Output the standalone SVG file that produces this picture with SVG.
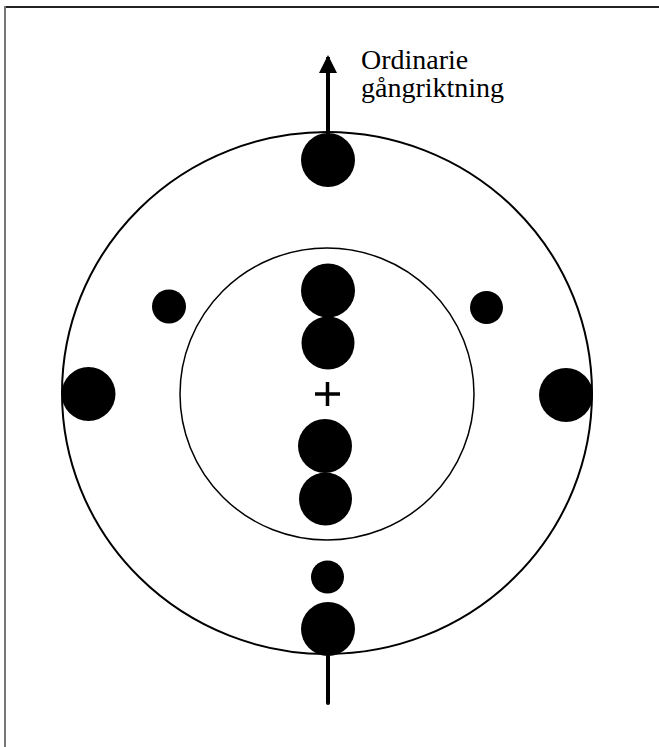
<svg xmlns="http://www.w3.org/2000/svg" width="659" height="747" viewBox="0 0 659 747">
<style>
.frame{stroke-width:2;fill:none}
.ring{fill:none;stroke:#000}
.dot{fill:#000}
.conn{stroke:#000;stroke-width:4;fill:none}
.lbl{font-family:"Liberation Serif","Times New Roman",serif;font-size:28px;fill:#000}
</style>
<defs>
<marker id="ah" viewBox="0 0 18 18" markerWidth="18" markerHeight="18" refX="9" refY="2" orient="0" markerUnits="userSpaceOnUse">
<path d="M0,18 L9,0 L18,18 Z" fill="#000"/>
</marker>
</defs>
<rect width="659" height="747" fill="#fff"/>
<line class="frame" x1="4" y1="7" x2="659" y2="7" stroke="#222"/>
<line class="frame" x1="5" y1="6" x2="5" y2="747" stroke="#777"/>
<g id="outer-ring"><ellipse class="ring" cx="327" cy="393" rx="265" ry="261" stroke-width="2"/></g>
<g id="inner-ring"><ellipse class="ring" cx="327" cy="394" rx="147" ry="146" stroke-width="1.5" stroke="#333"/></g>
<g id="connectors">
<line class="conn" x1="328" y1="140" x2="328" y2="57" marker-end="url(#ah)"/>
<line class="conn" x1="328" y1="640" x2="328" y2="703" stroke-linecap="round"/>
</g>
<g id="top-big"><circle class="dot" cx="328" cy="160" r="27"/></g>
<g id="left-big"><circle class="dot" cx="88.5" cy="394" r="27"/></g>
<g id="right-big"><circle class="dot" cx="566" cy="395" r="27"/></g>
<g id="left-small"><circle class="dot" cx="169" cy="306.5" r="17"/></g>
<g id="right-small"><circle class="dot" cx="486.5" cy="307.5" r="16.5"/></g>
<g id="inner-1"><circle class="dot" cx="328" cy="290.5" r="27"/></g>
<g id="inner-2"><circle class="dot" cx="328" cy="343" r="26.5"/></g>
<g id="center-plus"><path d="M315,394 H340 M327.5,382 V406" stroke="#000" stroke-width="3.5" fill="none"/></g>
<g id="inner-3"><circle class="dot" cx="325" cy="446" r="27"/></g>
<g id="inner-4"><circle class="dot" cx="325.5" cy="499" r="26.5"/></g>
<g id="bottom-small"><circle class="dot" cx="327.5" cy="577" r="16.5"/></g>
<g id="bottom-big"><circle class="dot" cx="328" cy="629" r="27"/></g>
<g id="label">
<text class="lbl" x="361" y="69">Ordinarie</text>
<text class="lbl" x="361" y="97">gångriktning</text>
</g>
</svg>
